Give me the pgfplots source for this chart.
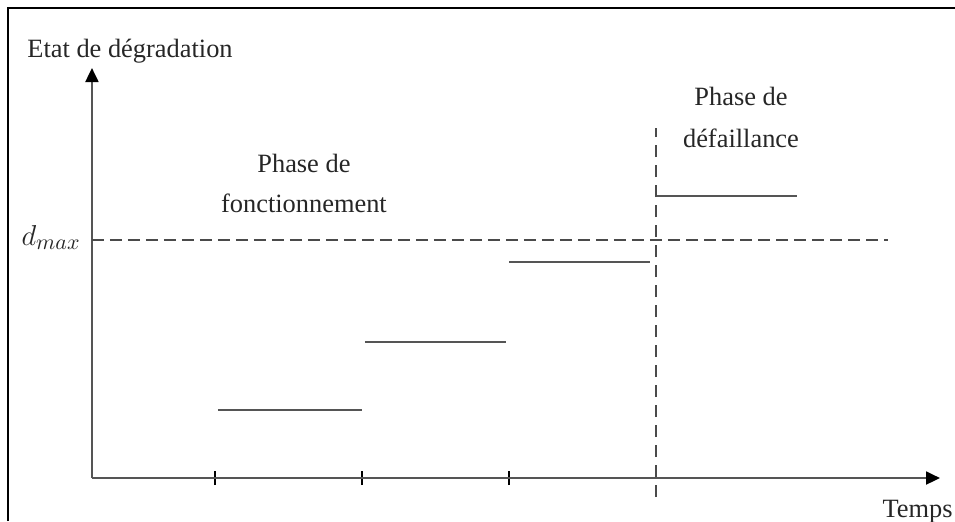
\documentclass[border=0pt]{standalone}
\usepackage{fontspec}
\setmainfont{Liberation Serif}
\usepackage{pgfplots}
\pgfplotsset{compat=1.18}
\usetikzlibrary{arrows.meta}

\definecolor{linegray}{HTML}{555555}
\definecolor{dashgray}{HTML}{4A4A4A}
\tikzset{txt/.style={inner sep=0pt, text=black!85}}

\begin{document}
\begin{tikzpicture}
\fontsize{13.2}{16}\selectfont
\begin{axis}[
    scale only axis,
    width=424pt, height=205pt,
    xmin=0.163, xmax=5.932,
    ymin=0, ymax=410,
    axis lines=left,
    axis line style={line width=1pt, linegray, -{Triangle[length=7pt,width=6.5pt,black]}},
    xtick={1,2,3}, xticklabels={},
    ytick=\empty,
    major tick length=7pt,
    tick align=center,
    tick style={black, line width=1.3pt},
    clip=false,
    seg/.style={linegray, line width=1pt, no marks},
]
% niveaux de degradation
\addplot[seg] coordinates {(1.02,68) (2.0,68)};
\addplot[seg] coordinates {(2.02,136) (2.98,136)};
\addplot[seg] coordinates {(3.0,216) (3.96,216)};
\addplot[seg] coordinates {(4.0,282) (4.96,282)};
% seuil d_max et debut de la defaillance
\addplot[dashgray, line width=0.9pt, dash pattern=on 6pt off 3pt, no marks] coordinates {(0.163,238) (5.578,238)};
\addplot[dashgray, line width=0.9pt, dash pattern=on 6pt off 4pt, no marks] coordinates {(4.0,-19) (4.0,350)};

\node[txt, anchor=base west] at (axis cs:-0.279,421) {Etat de dégradation};
\node[txt, anchor=base east] at (axis cs:0.088,233) {\fontsize{15.5}{18}\selectfont$d_{max}$};
\node[txt, anchor=base] at (axis cs:1.605,306) {Phase de};
\node[txt, anchor=base] at (axis cs:1.605,266) {fonctionnement};
\node[txt, anchor=base] at (axis cs:4.578,373) {Phase de};
\node[txt, anchor=base] at (axis cs:4.578,331) {défaillance};
\node[txt, anchor=base east] at (axis cs:6.020,-39) {Temps};

% cadre
\draw[black, line width=1pt] (axis cs:-0.408,-43) -- (axis cs:-0.408,470) -- (axis cs:6.034,470);
\coordinate (bbsw) at (axis cs:-0.4626,-43);
\coordinate (bbne) at (axis cs:6.034,478);
\end{axis}
\pgfresetboundingbox
\path (bbsw) rectangle (bbne);
\end{tikzpicture}
\end{document}
